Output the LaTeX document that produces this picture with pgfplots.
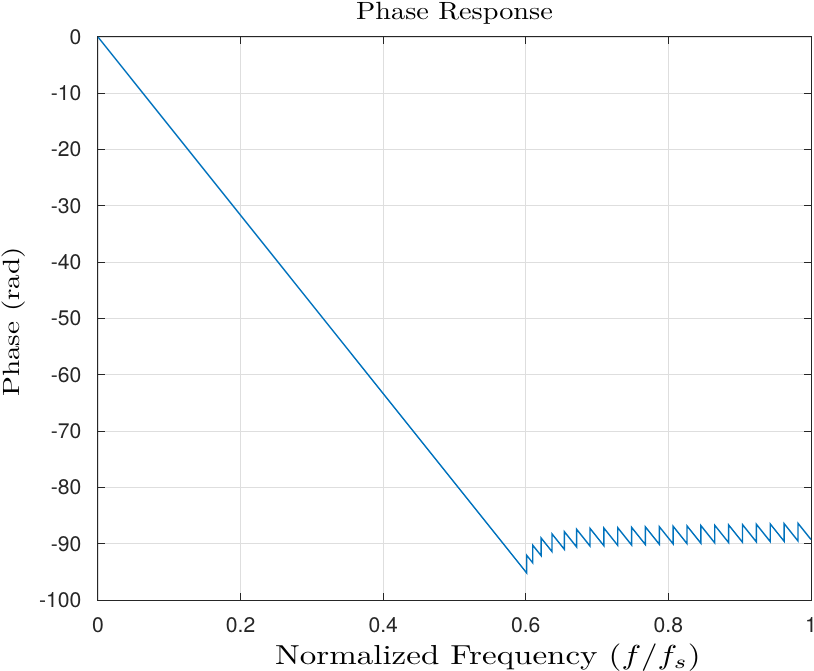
\documentclass[border=0pt]{standalone}
\usepackage{fontspec}
\setsansfont{TeX Gyre Heros}
\usepackage{graphicx}
\usepackage{pgfplots}
\pgfplotsset{compat=1.18}
\definecolor{mblue}{rgb}{0,0.447,0.741}
\begin{document}
\begin{tikzpicture}
\begin{axis}[
  scale only axis, width=356.5bp, height=281.5bp,
  xmin=0, xmax=1, ymin=-100, ymax=0,
  xtick={0,0.2,0.4,0.6,0.8,1}, ytick={-100,-90,-80,-70,-60,-50,-40,-30,-20,-10,0},
  xticklabels={0,0.2,0.4,0.6,0.8,1},
  yticklabels={-100,-90,-80,-70,-60,-50,-40,-30,-20,-10,0},
  tick align=inside, major tick length=3.6bp,
  grid=major, grid style={black!13, line width=0.4pt},
  axis line style={black!85, line width=0.5pt},
  tick style={black!85, line width=0.5pt},
  tick label style={font=\fontsize{10.6}{12}\sffamily, text=black!85},
  xticklabel style={anchor=north, inner sep=0pt, yshift=-8.35bp},
  yticklabel style={anchor=east, inner sep=0pt, xshift=-8.15bp},
  every axis title shift=0pt,
  title={\resizebox{98.3bp}{8.65bp}{Phase Response}},
  title style={at={(axis description cs:0.5,1.0302)}, anchor=base, inner sep=0pt},
  xlabel={\resizebox{212.8bp}{10.3bp}{Normalized Frequency $(f/f_s)$}},
  xlabel style={at={(axis description cs:0.547,-0.1144)}, anchor=base, inner sep=0pt},
  ylabel={\resizebox{75bp}{8.8bp}{Phase (rad)}},
  ylabel style={at={(axis description cs:-0.1094,0.494)}, anchor=base, inner sep=0pt},
]
\addplot[mblue, line width=0.7pt] coordinates {
(0,0) (0.6013,-95.21) (0.6013,-92.07) (0.6097,-93.40) (0.6097,-90.26)
(0.6214,-92.11) (0.6214,-88.97) (0.6368,-91.41) (0.6368,-88.27)
(0.6541,-91.01) (0.6541,-87.87) (0.6713,-90.59) (0.6713,-87.45)
(0.6900,-90.41) (0.6900,-87.27) (0.70945,-90.35) (0.70945,-87.21)
(0.7289,-90.29) (0.7289,-87.15) (0.74835,-90.23) (0.74835,-87.09)
(0.7678,-90.17) (0.7678,-87.03) (0.78725,-90.11) (0.78725,-86.97)
(0.8067,-90.05) (0.8067,-86.91) (0.82615,-89.99) (0.82615,-86.85)
(0.8456,-89.93) (0.8456,-86.79) (0.86505,-89.87) (0.86505,-86.73)
(0.8845,-89.81) (0.8845,-86.67) (0.90395,-89.75) (0.90395,-86.61)
(0.9234,-89.69) (0.9234,-86.55) (0.94285,-89.63) (0.94285,-86.49)
(0.9623,-89.57) (0.9623,-86.43) (0.98175,-89.51) (0.98175,-86.37)
(1,-89.26)
};
\end{axis}
\pgfresetboundingbox
\path (-49bp,-35.5bp) rectangle (358bp,300bp);
\end{tikzpicture}
\end{document}
